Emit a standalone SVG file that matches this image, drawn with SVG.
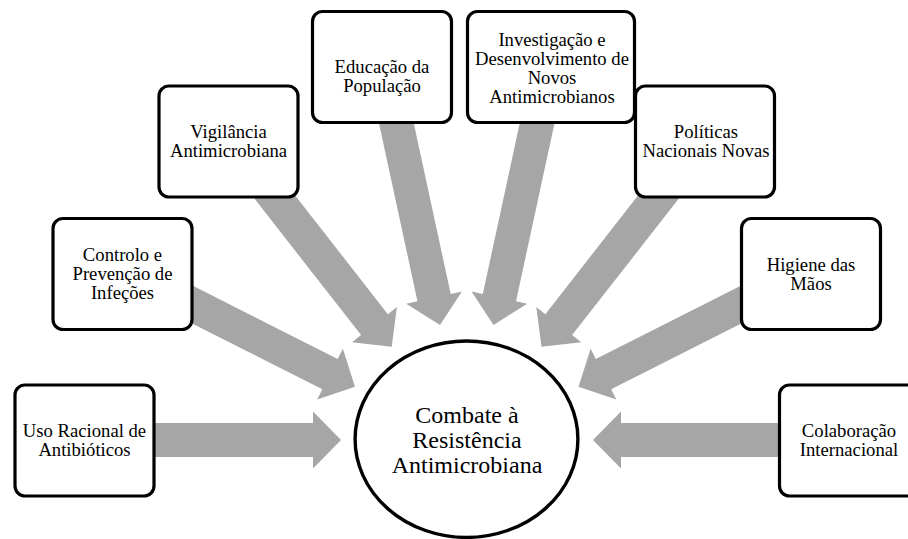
<svg xmlns="http://www.w3.org/2000/svg" width="908" height="539" viewBox="0 0 908 539">
<style>
.arrow{fill:#a6a6a6;stroke:none}
.box{fill:#ffffff;stroke:#000000;stroke-width:3.2}
.t{font-family:"Liberation Serif","Times New Roman",serif;font-size:18.67px;fill:#000000;text-anchor:middle}
.ct{font-family:"Liberation Serif","Times New Roman",serif;font-size:24px;fill:#000000;text-anchor:middle}
</style>
<defs>
<path id="arr" d="M0,0 L-28,-28.5 L-28,-17 L-240,-17 L-240,17 L-28,17 L-28,28.5 Z"/>
</defs>
<rect width="908" height="539" fill="#ffffff"/>
<g id="connectors" class="arrow">
<use href="#arr" transform="translate(341,440)"/>
<use href="#arr" transform="translate(355,386.7) rotate(26.8)"/>
<use href="#arr" transform="translate(391.7,346.7) rotate(52)"/>
<use href="#arr" transform="translate(440,325) rotate(77.8)"/>
<use href="#arr" transform="translate(493.5,325) rotate(102.2)"/>
<use href="#arr" transform="translate(541.5,346.7) rotate(128)"/>
<use href="#arr" transform="translate(578.5,386.7) rotate(153.2)"/>
<use href="#arr" transform="translate(593,440) rotate(180)"/>
</g>
<g id="uso">
<rect class="box" x="15" y="385" width="139" height="111" rx="10"/>
<text class="t" x="84.5" y="437">Uso Racional de</text>
<text class="t" x="84.5" y="456">Antibióticos</text>
</g>
<g id="controlo">
<rect class="box" x="53" y="218.5" width="139" height="111" rx="10"/>
<text class="t" x="122.5" y="261">Controlo e</text>
<text class="t" x="122.5" y="280">Prevenção de</text>
<text class="t" x="122.5" y="299">Infeções</text>
</g>
<g id="vigilancia">
<rect class="box" x="159" y="86" width="139" height="111" rx="10"/>
<text class="t" x="228.5" y="137.5">Vigilância</text>
<text class="t" x="228.5" y="156.5">Antimicrobiana</text>
</g>
<g id="educacao">
<rect class="box" x="312.5" y="11.5" width="139" height="111" rx="10"/>
<text class="t" x="382" y="73">Educação da</text>
<text class="t" x="382" y="92">População</text>
</g>
<g id="investigacao">
<rect class="box" x="467.5" y="11.5" width="167" height="111" rx="10"/>
<text class="t" x="552" y="46">Investigação e</text>
<text class="t" x="552" y="65">Desenvolvimento de</text>
<text class="t" x="552" y="84">Novos</text>
<text class="t" x="552" y="103">Antimicrobianos</text>
</g>
<g id="politicas">
<rect class="box" x="635.5" y="86" width="139" height="111" rx="10"/>
<text class="t" x="706" y="138">Políticas</text>
<text class="t" x="706" y="157">Nacionais Novas</text>
</g>
<g id="higiene">
<rect class="box" x="741.5" y="218.5" width="139" height="111" rx="10"/>
<text class="t" x="811" y="271">Higiene das</text>
<text class="t" x="811" y="290">Mãos</text>
</g>
<g id="colaboracao">
<rect class="box" x="779.5" y="385" width="139" height="111" rx="10"/>
<text class="t" x="849" y="437">Colaboração</text>
<text class="t" x="849" y="456">Internacional</text>
</g>
<g id="combate">
<ellipse cx="466.5" cy="439.2" rx="111.4" ry="98.2" fill="#ffffff" stroke="#000000" stroke-width="3.4"/>
<text class="ct" x="467" y="423.3">Combate à</text>
<text class="ct" x="467" y="448.3">Resistência</text>
<text class="ct" x="467" y="473.3">Antimicrobiana</text>
</g>
</svg>
